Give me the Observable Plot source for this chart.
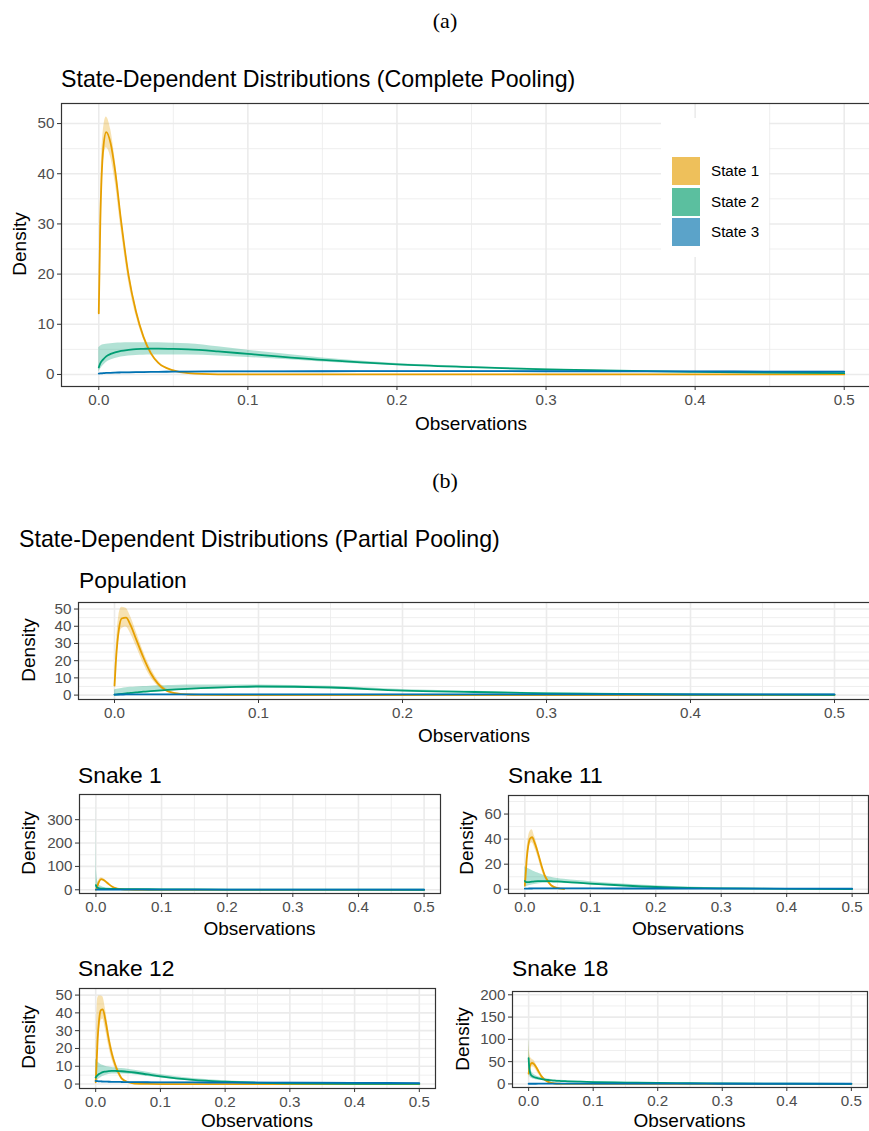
<!DOCTYPE html>
<html>
<head>
<meta charset="utf-8">
<script src="https://cdn.jsdelivr.net/npm/d3@7"></script>
<script src="https://cdn.jsdelivr.net/npm/@observablehq/plot@0.6"></script>
<style>
  html, body { margin: 0; padding: 0; background: #fff; overflow: hidden; }
  #root { position: relative; width: 869px; height: 1131px; overflow: hidden; background: #fff; font-family: "Liberation Sans", Arial, sans-serif; }
  .t { position: absolute; white-space: nowrap; line-height: 1; color: #000; }
  .p { position: absolute; }
  .p svg { max-width: none !important; }
</style>
</head>
<body>
<div id="root"></div>
<script>
// ---------- data ----------
const states = ["State 1", "State 2", "State 3"];
const lineColors = ["#E69F00", "#009E73", "#0072B2"];
const legendColors = ["#EEC05B", "#5BBF9F", "#5BA3C9"];
const xTicks = [0, 0.1, 0.2, 0.3, 0.4, 0.5];
const xMinor = [0.05, 0.15, 0.25, 0.35, 0.45];
const xs = [0, 0.001, 0.003, 0.005, 0.008, 0.011, 0.015, 0.02, 0.025, 0.03, 0.035, 0.04, 0.05, 0.06, 0.08, 0.1, 0.15, 0.2, 0.25, 0.3, 0.4, 0.5];

// (a) complete pooling
const aS1   = [12.2, 30, 45, 48.3, 46, 40.5, 30.5, 19.7, 12.5, 7.5, 4.2, 2.3, 0.8, 0.25, 0.03, 0, 0, 0, 0, 0, 0, 0];
const aS1lo = [11.5, 27.5, 42, 45.2, 43.3, 38.3, 28.8, 18.5, 11.7, 7.0, 3.9, 2.1, 0.7, 0.2, 0.02, 0, 0, 0, 0, 0, 0, 0];
const aS1hi = [13, 33, 48.5, 51.3, 48.8, 42.8, 32.2, 21, 13.4, 8.0, 4.5, 2.5, 0.9, 0.3, 0.05, 0.01, 0, 0, 0, 0, 0, 0];
const aS2   = [1.4, 2.2, 3.0, 3.6, 4.1, 4.4, 4.7, 4.9, 5.05, 5.1, 5.15, 5.15, 5.1, 5.0, 4.6, 4.1, 2.9, 2.0, 1.45, 1.0, 0.5, 0.25];
const aS2lo = [0.5, 1.0, 1.8, 2.4, 2.9, 3.2, 3.5, 3.7, 3.8, 3.85, 3.9, 3.9, 3.9, 3.9, 3.7, 3.4, 2.5, 1.8, 1.3, 0.9, 0.45, 0.22];
const aS2hi = [5.3, 5.6, 5.9, 6.0, 6.1, 6.2, 6.25, 6.3, 6.3, 6.3, 6.3, 6.3, 6.2, 6.1, 5.5, 4.8, 3.3, 2.2, 1.6, 1.1, 0.55, 0.3];
const aS3   = [0.15, 0.2, 0.25, 0.3, 0.33, 0.36, 0.4, 0.43, 0.46, 0.48, 0.5, 0.52, 0.55, 0.57, 0.6, 0.62, 0.64, 0.65, 0.65, 0.64, 0.6, 0.55];
const aS3lo = [0.1, 0.14, 0.18, 0.22, 0.25, 0.28, 0.32, 0.35, 0.38, 0.4, 0.42, 0.44, 0.47, 0.49, 0.52, 0.54, 0.56, 0.57, 0.57, 0.56, 0.52, 0.47];
const aS3hi = [0.2, 0.26, 0.32, 0.38, 0.41, 0.44, 0.48, 0.51, 0.54, 0.56, 0.58, 0.6, 0.63, 0.65, 0.68, 0.7, 0.72, 0.73, 0.73, 0.72, 0.68, 0.63];

// (b) population
const pS1   = [5.5, 20, 38, 44.5, 45, 41, 32.5, 22, 13, 6.8, 3.1, 1.4, 0.35, 0.08, 0.01, 0, 0, 0, 0, 0, 0, 0];
const pS1lo = [5, 15, 32, 38.5, 39.5, 36, 28.5, 18.5, 10.5, 5.3, 2.4, 1.0, 0.2, 0.04, 0, 0, 0, 0, 0, 0, 0, 0];
const pS1hi = [6, 25, 46, 51, 50.5, 46, 37, 25.5, 16, 8.7, 4.2, 2.0, 0.6, 0.15, 0.02, 0, 0, 0, 0, 0, 0, 0];
const pS2   = [0.2, 0.3, 0.5, 0.7, 1.0, 1.3, 1.6, 2.0, 2.3, 2.6, 2.9, 3.2, 3.6, 4.0, 4.6, 5.0, 4.4, 2.6, 1.8, 1.0, 0.35, 0.2];
const pS2lo = [0, 0.05, 0.1, 0.2, 0.4, 0.6, 0.9, 1.2, 1.5, 1.8, 2.1, 2.4, 2.9, 3.3, 3.9, 4.2, 3.9, 2.2, 1.5, 0.8, 0.3, 0.15];
const pS2hi = [3.0, 3.3, 3.6, 3.9, 4.2, 4.5, 4.7, 5.0, 5.2, 5.4, 5.5, 5.6, 5.8, 5.9, 5.9, 5.8, 5.1, 3.2, 2.2, 1.3, 0.45, 0.25];
const pS3   = [0.3, 0.32, 0.34, 0.35, 0.37, 0.38, 0.39, 0.4, 0.41, 0.42, 0.42, 0.43, 0.43, 0.44, 0.44, 0.45, 0.45, 0.45, 0.44, 0.44, 0.43, 0.42];
const pS3lo = [0.2, 0.22, 0.24, 0.25, 0.27, 0.28, 0.29, 0.3, 0.31, 0.32, 0.32, 0.33, 0.33, 0.34, 0.34, 0.35, 0.35, 0.35, 0.34, 0.34, 0.33, 0.32];
const pS3hi = [0.4, 0.42, 0.44, 0.45, 0.47, 0.48, 0.49, 0.5, 0.51, 0.52, 0.52, 0.53, 0.53, 0.54, 0.54, 0.55, 0.55, 0.55, 0.54, 0.54, 0.53, 0.52];

// snake 1
const s1S1   = [0, 5, 22, 36, 45.5, 43, 35, 23, 13, 7, 3.5, 1.6, 0.4, 0.1, 0, 0, 0, 0, 0, 0, 0, 0];
const s1S1lo = [0, 3, 17, 30, 39, 37, 29.5, 19, 10.5, 5.5, 2.7, 1.2, 0.3, 0.07, 0, 0, 0, 0, 0, 0, 0, 0];
const s1S1hi = [1, 8, 28, 43, 52, 49.5, 41, 27.5, 16, 8.8, 4.5, 2.1, 0.55, 0.14, 0.01, 0, 0, 0, 0, 0, 0, 0];
const s1S2   = [20, 12, 8, 6, 5, 4.5, 4, 3.7, 3.5, 3.3, 3.15, 3, 2.8, 2.6, 2.3, 2.0, 1.5, 1.1, 0.8, 0.6, 0.35, 0.2];
const s1S2lo = [2, 2.3, 2.4, 2.4, 2.3, 2.2, 2.1, 2.0, 1.95, 1.9, 1.85, 1.8, 1.7, 1.6, 1.45, 1.3, 1.0, 0.75, 0.55, 0.4, 0.22, 0.12];
const s1S2hi = [390, 80, 35, 22, 15, 11, 9, 7.5, 6.5, 6, 5.6, 5.2, 4.7, 4.3, 3.7, 3.2, 2.3, 1.6, 1.2, 0.9, 0.5, 0.3];
const s1S3   = [0.4, 0.42, 0.45, 0.47, 0.5, 0.5, 0.52, 0.53, 0.53, 0.54, 0.54, 0.55, 0.55, 0.55, 0.55, 0.55, 0.55, 0.54, 0.54, 0.53, 0.52, 0.5];
const s1S3lo = [0.1, 0.12, 0.15, 0.17, 0.2, 0.2, 0.22, 0.23, 0.23, 0.24, 0.24, 0.25, 0.25, 0.25, 0.25, 0.25, 0.25, 0.24, 0.24, 0.23, 0.22, 0.2];
const s1S3hi = [0.7, 0.72, 0.75, 0.77, 0.8, 0.8, 0.82, 0.83, 0.83, 0.84, 0.84, 0.85, 0.85, 0.85, 0.85, 0.85, 0.85, 0.84, 0.84, 0.83, 0.82, 0.8];

// snake 11
const s11S1   = [3, 10, 25, 34, 40.5, 41.5, 37, 29, 19.5, 11.5, 6.5, 3.2, 0.8, 0.2, null, null, null, null, null, null, null, null];
const s11S1lo = [2, 7, 19, 28, 35.5, 37, 33, 25.5, 16.5, 9.5, 5.2, 2.5, 0.6, 0.15, null, null, null, null, null, null, null, null];
const s11S1hi = [5, 14, 31, 40, 46, 47.5, 42, 33, 22.5, 13.5, 7.8, 4.0, 1.0, 0.3, null, null, null, null, null, null, null, null];
const s11S2   = [6.6, 6.0, 5.6, 5.6, 5.8, 6.0, 6.2, 6.4, 6.5, 6.5, 6.5, 6.4, 6.2, 5.9, 5.2, 4.5, 3.0, 1.8, 1.1, 0.7, 0.3, 0.15];
const s11S2lo = [1, 1.5, 2, 2.5, 3, 3.4, 3.8, 4.2, 4.5, 4.7, 4.8, 4.8, 4.7, 4.5, 4.0, 3.4, 2.2, 1.2, 0.7, 0.4, 0.15, 0.08];
const s11S2hi = [18, 17.6, 17, 16.5, 15.8, 15, 14, 13, 12, 11, 10.2, 9.5, 8.5, 7.9, 6.9, 6.0, 4.2, 2.8, 1.8, 1.2, 0.5, 0.25];
const s11S3   = [0.5, 0.52, 0.55, 0.57, 0.6, 0.6, 0.62, 0.62, 0.63, 0.63, 0.63, 0.63, 0.63, 0.63, 0.62, 0.62, 0.6, 0.58, 0.56, 0.54, 0.5, 0.46];
const s11S3lo = [0.35, 0.37, 0.4, 0.42, 0.45, 0.45, 0.47, 0.47, 0.48, 0.48, 0.48, 0.48, 0.48, 0.48, 0.47, 0.47, 0.45, 0.43, 0.41, 0.39, 0.35, 0.31];
const s11S3hi = [0.65, 0.67, 0.7, 0.72, 0.75, 0.75, 0.77, 0.77, 0.78, 0.78, 0.78, 0.78, 0.78, 0.78, 0.77, 0.77, 0.75, 0.73, 0.71, 0.69, 0.65, 0.61];

// snake 12
const s12S1   = [1, 8, 25, 35, 41.5, 42, 36, 25.5, 17, 11, 6.5, 3.2, 1.0, 0.3, 0.05, 0, 0, 0, 0, 0, 0, 0];
const s12S1lo = [0, 4, 16, 27, 35, 36.5, 31, 21.5, 14, 9, 5.2, 2.5, 0.75, 0.2, 0.03, 0, 0, 0, 0, 0, 0, 0];
const s12S1hi = [3, 25, 48, 49.5, 49.5, 49, 42.5, 30.5, 21, 13.8, 8.2, 4.1, 1.3, 0.4, 0.07, 0, 0, 0, 0, 0, 0, 0];
const s12S2   = [3.7, 4.3, 5.0, 5.6, 6.2, 6.7, 7.0, 7.3, 7.4, 7.4, 7.3, 7.2, 6.9, 6.5, 5.4, 4.3, 2.3, 1.3, 0.7, 0.4, 0.15, 0.05];
const s12S2lo = [0.2, 0.8, 1.8, 2.8, 3.6, 4.3, 4.8, 5.3, 5.6, 5.7, 5.7, 5.7, 5.5, 5.2, 4.3, 3.4, 1.7, 0.8, 0.4, 0.2, 0.08, 0.02];
const s12S2hi = [14, 13.5, 12.5, 11.8, 11, 10.5, 10, 9.6, 9.3, 9.1, 8.9, 8.7, 8.3, 7.8, 6.6, 5.3, 3.1, 1.9, 1.1, 0.6, 0.25, 0.1];
const s12S3   = [1.8, 1.7, 1.6, 1.5, 1.45, 1.4, 1.35, 1.3, 1.25, 1.2, 1.2, 1.15, 1.1, 1.05, 1.0, 0.95, 0.9, 0.85, 0.8, 0.75, 0.65, 0.55];
const s12S3lo = [1.55, 1.45, 1.35, 1.25, 1.2, 1.15, 1.1, 1.05, 1.0, 0.95, 0.95, 0.9, 0.85, 0.8, 0.75, 0.7, 0.65, 0.6, 0.55, 0.5, 0.4, 0.3];
const s12S3hi = [2.05, 1.95, 1.85, 1.75, 1.7, 1.65, 1.6, 1.55, 1.5, 1.45, 1.45, 1.4, 1.35, 1.3, 1.25, 1.2, 1.15, 1.1, 1.05, 1.0, 0.9, 0.8];

// snake 18
const s18S1   = [23, 33, 44, 47, 45, 39, 29, 17, 9, 4.5, 2.2, 1.0, 0.3, 0.08, 0, 0, 0, 0, 0, 0, 0, 0];
const s18S1lo = [10, 20, 32, 38, 37.5, 32, 23, 13, 6.5, 3, 1.4, 0.6, 0.15, 0.03, 0, 0, 0, 0, 0, 0, 0, 0];
const s18S1hi = [100, 75, 60, 56, 53, 46, 35, 21, 11.5, 6, 3, 1.5, 0.5, 0.15, 0.02, 0, 0, 0, 0, 0, 0, 0];
const s18S2   = [58, 36, 22, 18, 15.5, 14, 12.5, 11, 9.8, 8.8, 8, 7.3, 6.5, 5.9, 5.0, 4.2, 3.0, 2.1, 1.5, 1.1, 0.6, 0.3];
const s18S2lo = [35, 22, 14, 12, 10.5, 9.5, 8.8, 8, 7.3, 6.7, 6.2, 5.7, 5.0, 4.5, 3.9, 3.3, 2.4, 1.6, 1.1, 0.8, 0.45, 0.2];
const s18S2hi = [110, 60, 35, 27, 22, 19, 16, 14, 12.5, 11, 10, 9.2, 8.2, 7.4, 6.2, 5.2, 3.6, 2.6, 1.9, 1.4, 0.8, 0.45];
const s18S3   = [0.4, 0.42, 0.44, 0.45, 0.46, 0.47, 0.48, 0.49, 0.5, 0.5, 0.5, 0.5, 0.5, 0.5, 0.5, 0.5, 0.5, 0.49, 0.48, 0.47, 0.45, 0.43];
const s18S3lo = [0.1, 0.12, 0.14, 0.15, 0.16, 0.17, 0.18, 0.19, 0.2, 0.2, 0.2, 0.2, 0.2, 0.2, 0.2, 0.2, 0.2, 0.19, 0.18, 0.17, 0.15, 0.13];
const s18S3hi = [0.7, 0.72, 0.74, 0.75, 0.76, 0.77, 0.78, 0.79, 0.8, 0.8, 0.8, 0.8, 0.8, 0.8, 0.8, 0.8, 0.8, 0.79, 0.78, 0.77, 0.75, 0.73];

// ---------- helpers ----------
const root = document.getElementById("root");
const SANS = '"Liberation Sans", Arial, Helvetica, sans-serif';
const SERIF = '"Liberation Serif", "Times New Roman", serif';

function text(str, x, y, {size = 19, anchor = "left", rotate = false, font = SANS, color = "#000"} = {}) {
  const d = document.createElement("div");
  d.className = "t";
  d.textContent = str;
  d.style.left = x + "px";
  d.style.top = y + "px";
  d.style.fontSize = size + "px";
  d.style.fontFamily = font;
  d.style.color = color;
  if (rotate) d.style.transform = "translate(-50%, -50%) rotate(-90deg)";
  else if (anchor === "center") d.style.transform = "translate(-50%, -50%)";
  else d.style.transform = "translate(0, -50%)";
  root.appendChild(d);
  return d;
}

function rows(m, lo, hi) {
  return xs.map((x, i) => ({x, y: m[i], lo: lo[i], hi: hi[i]})).filter(d => d.y != null);
}

function panel({fx0, fy0, fx1, fy1, ydom, yticks, yminor, series, titleY}) {
  const mL = 50, mR = 2, mT = 2, mB = 30;
  const width = fx1 - fx0 + mL + mR;
  const height = fy1 - fy0 + mT + mB;
  const data = series.map(([m, lo, hi]) => rows(m, lo, hi));
  const marks = [
    Plot.ruleX(xMinor, {stroke: "#EBEBEB", strokeWidth: 0.8}),
    Plot.ruleY(yminor, {stroke: "#EBEBEB", strokeWidth: 0.8}),
    Plot.ruleX(xTicks, {stroke: "#EBEBEB", strokeWidth: 1.6}),
    Plot.ruleY(yticks, {stroke: "#EBEBEB", strokeWidth: 1.6}),
    ...data.map((d, k) => Plot.areaY(d, {x: "x", y1: "lo", y2: "hi", fill: lineColors[k], fillOpacity: 0.3, curve: "monotone-x", clip: true})),
    ...data.map((d, k) => Plot.line(d, {x: "x", y: "y", stroke: lineColors[k], strokeWidth: 1.8, curve: "monotone-x", clip: true})),
    Plot.frame({stroke: "#333333", strokeWidth: 1.2}),
    Plot.axisX({ticks: xTicks, tickFormat: d3.format(".1f"), tickSize: 4, tickPadding: 4, stroke: "#333333", fill: "#4D4D4D", label: null}),
    Plot.axisY({ticks: yticks, tickFormat: d3.format("d"), tickSize: 4, tickPadding: 3, stroke: "#333333", fill: "#4D4D4D", label: null})
  ];
  const svg = Plot.plot({
    width, height,
    marginLeft: mL, marginRight: mR, marginTop: mT, marginBottom: mB,
    x: {domain: [-0.025, 0.525]},
    y: {domain: ydom},
    style: {fontFamily: SANS, fontSize: "15.2px", background: "transparent", overflow: "visible"},
    marks
  });
  const wrap = document.createElement("div");
  wrap.className = "p";
  wrap.style.left = (fx0 - mL) + "px";
  wrap.style.top = (fy0 - mT) + "px";
  wrap.style.width = width + "px";
  wrap.style.height = height + "px";
  wrap.appendChild(svg);
  root.appendChild(wrap);
  // axis title
  text("Observations", (fx0 + fx1) / 2, titleY ?? (fy1 + 36), {size: 19, anchor: "center"});
}

// ---------- (a) ----------
text("(a)", 445, 21, {size: 22, anchor: "center", font: SERIF});
text("State-Dependent Distributions (Complete Pooling)", 61, 80, {size: 23.2});
panel({
  fx0: 61, fy0: 103, fx1: 881, fy1: 386,
  ydom: [-2.4, 54.0], yticks: [0, 10, 20, 30, 40, 50], yminor: [5, 15, 25, 35, 45],
  series: [[aS1, aS1lo, aS1hi], [aS2, aS2lo, aS2hi], [aS3, aS3lo, aS3hi]],
  titleY: 423
});
text("Density", 19, 244, {size: 19, rotate: true});

// legend (a)
{
  const box = document.createElement("div");
  box.style.cssText = "position:absolute;left:661px;top:118px;width:108px;height:139px;background:#fff;";
  root.appendChild(box);
  states.forEach((s, i) => {
    const sw = document.createElement("div");
    sw.style.cssText = `position:absolute;left:672px;top:${157 + i * 30.5}px;width:28px;height:28px;background:${legendColors[i]};`;
    root.appendChild(sw);
    text(s, 711, 171 + i * 30.5, {size: 15.2});
  });
}

// ---------- (b) ----------
text("(b)", 445, 481, {size: 22, anchor: "center", font: SERIF});
text("State-Dependent Distributions (Partial Pooling)", 19, 540, {size: 23.2});

text("Population", 79, 580, {size: 22.8});
panel({
  fx0: 78, fy0: 602, fx1: 870, fy1: 699,
  ydom: [-2.56, 53.8], yticks: [0, 10, 20, 30, 40, 50], yminor: [5, 15, 25, 35, 45],
  series: [[pS1, pS1lo, pS1hi], [pS2, pS2lo, pS2hi], [pS3, pS3lo, pS3hi]],
  titleY: 735
});
text("Density", 28, 650, {size: 19, rotate: true});

text("Snake 1", 78, 775, {size: 22.8});
panel({
  fx0: 79, fy0: 794, fx1: 440, fy1: 893,
  ydom: [-15.9, 407.8], yticks: [0, 100, 200, 300], yminor: [50, 150, 250, 350],
  series: [[s1S1, s1S1lo, s1S1hi], [s1S2, s1S2lo, s1S2hi], [s1S3, s1S3lo, s1S3hi]],
  titleY: 928
});
text("Density", 28, 843, {size: 19, rotate: true});

text("Snake 11", 508, 775, {size: 22.8});
panel({
  fx0: 508, fy0: 795, fx1: 868, fy1: 893,
  ydom: [-3.4, 74.8], yticks: [0, 20, 40, 60], yminor: [10, 30, 50, 70],
  series: [[s11S1, s11S1lo, s11S1hi], [s11S2, s11S2lo, s11S2hi], [s11S3, s11S3lo, s11S3hi]],
  titleY: 928
});
text("Density", 466, 843, {size: 19, rotate: true});

text("Snake 12", 78, 968, {size: 22.8});
panel({
  fx0: 79, fy0: 988, fx1: 435, fy1: 1088,
  ydom: [-2.5, 53.7], yticks: [0, 10, 20, 30, 40, 50], yminor: [5, 15, 25, 35, 45],
  series: [[s12S1, s12S1lo, s12S1hi], [s12S2, s12S2lo, s12S2hi], [s12S3, s12S3lo, s12S3hi]],
  titleY: 1120
});
text("Density", 28, 1037, {size: 19, rotate: true});

text("Snake 18", 512, 968, {size: 22.8});
panel({
  fx0: 512, fy0: 991, fx1: 867, fy1: 1087,
  ydom: [-8, 207.4], yticks: [0, 50, 100, 150, 200], yminor: [25, 75, 125, 175],
  series: [[s18S1, s18S1lo, s18S1hi], [s18S2, s18S2lo, s18S2hi], [s18S3, s18S3lo, s18S3hi]],
  titleY: 1120
});
text("Density", 462, 1039, {size: 19, rotate: true});
</script>
</body>
</html>
